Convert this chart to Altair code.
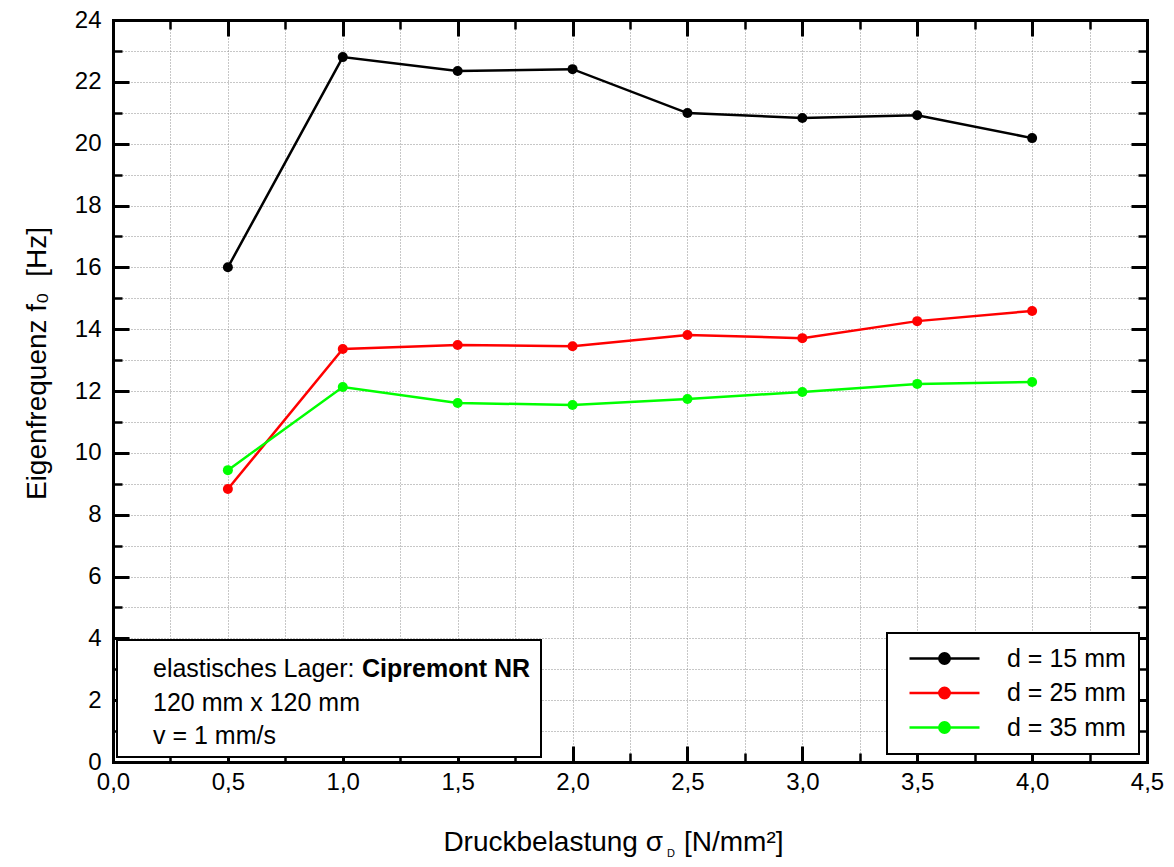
import altair as alt
import pandas as pd

# ---------------- data ----------------
sigma_d = [0.5, 1.0, 1.5, 2.0, 2.5, 3.0, 3.5, 4.0]
f0_d15 = [16.00, 22.80, 22.35, 22.41, 20.99, 20.83, 20.92, 20.18]
f0_d25 = [8.83, 13.36, 13.49, 13.45, 13.81, 13.71, 14.26, 14.59]
f0_d35 = [9.44, 12.13, 11.61, 11.55, 11.74, 11.97, 12.23, 12.29]
series_names = ["d = 15 mm", "d = 25 mm", "d = 35 mm"]
series_colors = ["#000000", "#ff0000", "#00ff00"]

x_major = [0.0, 0.5, 1.0, 1.5, 2.0, 2.5, 3.0, 3.5, 4.0, 4.5]
x_minor = [0.25, 0.75, 1.25, 1.75, 2.25, 2.75, 3.25, 3.75, 4.25]
y_major = [0, 2, 4, 6, 8, 10, 12, 14, 16, 18, 20, 22, 24]
y_minor = [1, 3, 5, 7, 9, 11, 13, 15, 17, 19, 21, 23]

y_title = "Eigenfrequenz f\u2080\u00a0\u00a0[Hz]"
x_title_main = "Druckbelastung \u03c3"
x_title_sub = "D"
x_title_unit = "[N/mm\u00b2]"

note_label = "elastisches Lager:"
note_material = "Cipremont NR"
note_lines = ["120 mm x 120 mm", "v = 1 mm/s"]

rows = []
for name, vals in zip(series_names, [f0_d15, f0_d25, f0_d35]):
    for xv, yv in zip(sigma_d, vals):
        rows.append({"x": xv, "y": yv, "series": name})
df = pd.DataFrame(rows)
one = pd.DataFrame({"k": [0]})

FONT = "Liberation Sans"
xs = alt.Scale(domain=[0, 4.5], nice=False, zero=False)
ys = alt.Scale(domain=[0, 24], nice=False, zero=False)


def axis_layer(xaxis, yaxis):
    return alt.Chart(df).mark_point(opacity=0).encode(
        x=alt.X("x:Q", scale=xs, axis=xaxis),
        y=alt.Y("y:Q", scale=ys, axis=yaxis),
    )


def tick_axis(orient, values, size, width, domain=False):
    return alt.Axis(
        orient=orient, values=values, labels=False, ticks=True,
        tickSize={"expr": str(-size)}, tickWidth=width, tickColor="black",
        grid=False, domain=domain, domainColor="black", domainWidth=3,
        domainCap="square", title=None,
    )


grid_layer = axis_layer(
    alt.Axis(orient="bottom", values=x_major + x_minor, grid=True, gridColor="#8f8f8f",
             gridDash=[1, 2], gridWidth=1, labels=False, ticks=False, domain=False, title=None),
    alt.Axis(orient="left", values=y_major + y_minor, grid=True, gridColor="#8f8f8f",
             gridDash=[1, 2], gridWidth=1, labels=False, ticks=False, domain=False, title=None),
)

label_layer = axis_layer(
    alt.Axis(orient="bottom", values=x_major,
             labelExpr="replace(format(datum.value, '.1f'), '.', ',')",
             labelFont=FONT, labelFontSize=24, labelColor="black", labelPadding=8,
             labelFlush=False, labelOverlap=False, ticks=False, grid=False,
             domain=True, domainColor="black", domainWidth=3, domainCap="square", title=None),
    alt.Axis(orient="left", values=y_major, format="d",
             labelFont=FONT, labelFontSize=24, labelColor="black", labelPadding=12,
             labelFlush=False, labelOverlap=False, ticks=False, grid=False,
             domain=True, domainColor="black", domainWidth=3, domainCap="square",
             title=y_title, titleFont=FONT, titleFontSize=28, titleFontWeight="normal",
             titleColor="black", titleX=-68, titleY=343, titleAngle=270,
             titleAlign="center", titleBaseline="alphabetic"),
)

major_bl = axis_layer(tick_axis("bottom", x_major, 16, 3), tick_axis("left", y_major, 16, 3))
minor_bl = axis_layer(tick_axis("bottom", x_minor, 9, 2.5), tick_axis("left", y_minor, 9, 2.5))
major_tr = axis_layer(tick_axis("top", x_major, 16, 3, True), tick_axis("right", y_major, 16, 3, True))
minor_tr = axis_layer(tick_axis("top", x_minor, 9, 2.5), tick_axis("right", y_minor, 9, 2.5))

# legend symbol: line with filled dot (concentric rings)
rings = ""
for r in [0.52, 0.37, 0.22, 0.07]:
    rings += f"M{r},0A{r},{r},0,1,1,-{r},0A{r},{r},0,1,1,{r},0"
symbol_path = "M-3.5,0H3.5" + rings

lines = alt.Chart(df).mark_line(strokeWidth=2.5).encode(
    x=alt.X("x:Q", scale=xs, axis=None),
    y=alt.Y("y:Q", scale=ys, axis=None),
    color=alt.Color(
        "series:N",
        scale=alt.Scale(domain=series_names, range=series_colors),
        legend=alt.Legend(
            title=None, orient="bottom-right", offset=8, fillColor="white",
            strokeColor="black", padding=13, symbolType=symbol_path, symbolSize=400,
            symbolStrokeWidth=2.5, symbolOffset=32, labelOffset=50,
            labelFont=FONT, labelFontSize=25, labelColor="black", rowPadding=8.5,
            labelLimit=0,
        ),
    ),
    order=alt.Order("x:Q"),
)

points = alt.Chart(df).mark_circle(size=100, opacity=1).encode(
    x=alt.X("x:Q", scale=xs, axis=None),
    y=alt.Y("y:Q", scale=ys, axis=None),
    fill=alt.Fill("series:N", scale=alt.Scale(domain=series_names, range=series_colors),
                  legend=None),
)

note_box = alt.Chart(one).mark_rect(fill="white", stroke="black", strokeWidth=2).encode(
    x=alt.value(4), x2=alt.value(428), y=alt.value(620), y2=alt.value(737)
)


def text_at(txt, x, y, size=25, weight="normal", align="left"):
    return alt.Chart(one).mark_text(
        align=align, baseline="alphabetic", font=FONT, fontSize=size,
        fontWeight=weight, color="black",
    ).encode(x=alt.value(x), y=alt.value(y), text=alt.value(txt))


note_texts = [
    text_at(note_label, 40, 657),
    text_at(note_material, 249, 657, weight="bold"),
    text_at(note_lines[0], 40, 691),
    text_at(note_lines[1], 40, 724),
]

x_title_parts = [
    text_at(x_title_main, 550, 831, size=28, align="right"),
    text_at(x_title_sub, 554, 837, size=11),
    text_at(x_title_unit, 571, 831, size=28),
]

chart = alt.layer(
    grid_layer, label_layer, major_bl, minor_bl, major_tr, minor_tr,
    lines, points, note_box, *note_texts, *x_title_parts,
).resolve_axis(
    x="independent", y="independent"
).properties(
    width=1034, height=742,
    padding={"left": 105, "top": 12, "right": 19, "bottom": 97},
    autosize=alt.AutoSizeParams(type="none"),
    background="white",
).configure_view(stroke=None).configure_legend(strokeWidth=2)

chart.save("out.html", embed_options={"renderer": "svg", "actions": False})
